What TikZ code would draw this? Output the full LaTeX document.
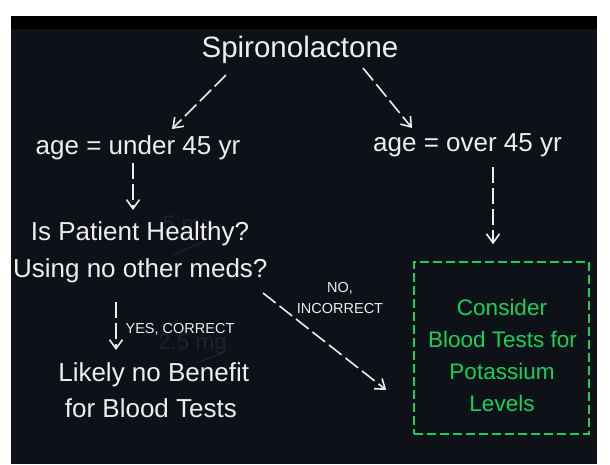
\documentclass[tikz,border=0pt]{standalone}
\usepackage{fontspec}
\setmainfont{Liberation Sans}
\usetikzlibrary{arrows.meta,calc}
\definecolor{bgdark}{HTML}{0E1117}
\definecolor{txt}{HTML}{EEEEEE}
\definecolor{grn}{HTML}{14D25A}
\definecolor{ghost}{HTML}{1F2228}
\begin{document}
\begin{tikzpicture}[x=1pt,y=-1pt,
  lbl/.style={text=txt,inner sep=0pt,anchor=base,font=\fontsize{26}{31}\selectfont},
  smalllbl/.style={text=txt,inner sep=0pt,anchor=base,font=\fontsize{14.5}{17}\selectfont},
  grtxt/.style={text=grn,inner sep=0pt,anchor=base,font=\fontsize{22.5}{27}\selectfont},
  ghosttxt/.style={text=ghost,inner sep=0pt,anchor=base,font=\fontsize{22.5}{27}\selectfont},
  arr/.style={draw=txt,line width=1.6pt,dash pattern=on 16pt off 5pt,
    -{Straight Barb[length=9pt,width=13pt,line width=1.6pt]}},
  greenbox/.style={draw=grn,line width=1.6pt,dash pattern=on 9pt off 4pt,
    minimum width=175pt,minimum height=172pt,inner sep=0pt}
 ]
\useasboundingbox (0,0) rectangle (610,464);
\fill[white] (0,0) rectangle (610,464);
\fill[bgdark] (10.5,15.5) rectangle (597,464);
\fill[black] (10.5,15.5) rectangle (597,29);

% faint ghost text
\node[ghosttxt] (g1) at (188,231) {5 mg};
\node[ghosttxt] (g2) at (192.5,349) {2.5 mg};
\coordinate (g1a) at (203,242); \coordinate (g1b) at (173,255);
\coordinate (g2a) at (228,351); \coordinate (g2b) at (197,363);
\draw[ghost,line width=1.2pt] (g1a) -- (g1b);
\draw[ghost,line width=1.2pt] (g2a) -- (g2b);

% nodes
\node[lbl,font=\fontsize{29.5}{35}\selectfont] (spiro) at (300,57) {Spironolactone};
\node[lbl] (under) at (138,154) {age = under 45 yr};
\node[lbl] (over) at (467.5,151) {age = over 45 yr};
\node[lbl] (healthy) at (140,240) {Is Patient Healthy?};
\node[lbl] (meds) at (140.3,277) {Using no other meds?};
\node[smalllbl] (yes) at (180,333) {YES, CORRECT};
\node[lbl] (likely) at (153.7,381) {Likely no Benefit};
\node[lbl] (fortests) at (150.9,417) {for Blood Tests};
\node[smalllbl] (no) at (340,292) {NO,};
\node[smalllbl] (incorrect) at (340,313) {INCORRECT};

\node[greenbox] (box) at (501.5,348) {};
\node[grtxt] (c1) at (502,315) {Consider};
\node[grtxt] (c2) at (502.5,347) {Blood Tests for};
\node[grtxt] (c3) at (502,379) {Potassium};
\node[grtxt] (c4) at (502,411) {Levels};

% connectors
\draw[arr] ($(spiro.base)+(-74,18)$) -- ($(under.base)+(34,-25)$);
\draw[arr] ($(spiro.base)+(63,11)$) -- ($(over.base)+(-55.5,-23)$);
\draw[arr] ($(over.base)+(25.5,16)$) -- ($(box.north)+(-8.5,-17)$);
\draw[arr] ($(under.base)+(-5,9)$) -- ($(healthy.base)+(-7,-30)$);
\draw[arr] ($(meds.base)+(-24.3,25)$) -- ($(likely.base)+(-37.7,-31)$);
\draw[arr] ($(meds.base)+(122.7,16)$) -- ($(box.west)+(-27,42)$);
\end{tikzpicture}
\end{document}
